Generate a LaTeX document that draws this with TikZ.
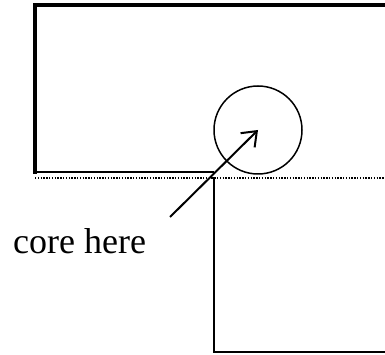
\documentclass[tikz,border=0pt]{standalone}
\usepackage{fontspec}
\setmainfont{Liberation Serif}
\usepackage{tikz}
\usetikzlibrary{arrows.meta,positioning}
\tikzset{
  wall/.style={
    draw=black, line width=#1, line cap=rect
  },
  wall/.default=2.2pt,
  seam/.style={
    draw=black, line width=1.6pt, dash pattern=on 1.4pt off 1.4pt
  },
  corering/.style={
    circle, draw=black, line width=1.5pt,
    minimum size=88pt, inner sep=0pt
  },
  labelnode/.style={
    font=\fontsize{36}{42}\selectfont, inner sep=0pt, anchor=base west
  },
  pointer/.style={
    -{Straight Barb[length=13pt,width=20pt,line width=2pt]}, line width=2pt
  },
}
\begin{document}
\begin{tikzpicture}[x=1pt, y=-1pt]
  \useasboundingbox (0,0) rectangle (385,355);

  % upper block
  \draw[wall=3.2pt] (385,5) -- (35,5) -- (35,172);
  \draw[wall=2.8pt] (35,172) -- (213,172);
  % joint line
  \draw[seam] (35,178) -- (385,178);
  % lower block
  \draw[wall=2.2pt] (214,178) -- (214,352) -- (385,352);

  \node[corering] (core) at (258,130) {};
  \node[labelnode] (label) at (13,253) {core here};
  \coordinate (tail) at (170,217);

  \draw[pointer] (tail) -- (core.center);
\end{tikzpicture}
\end{document}
